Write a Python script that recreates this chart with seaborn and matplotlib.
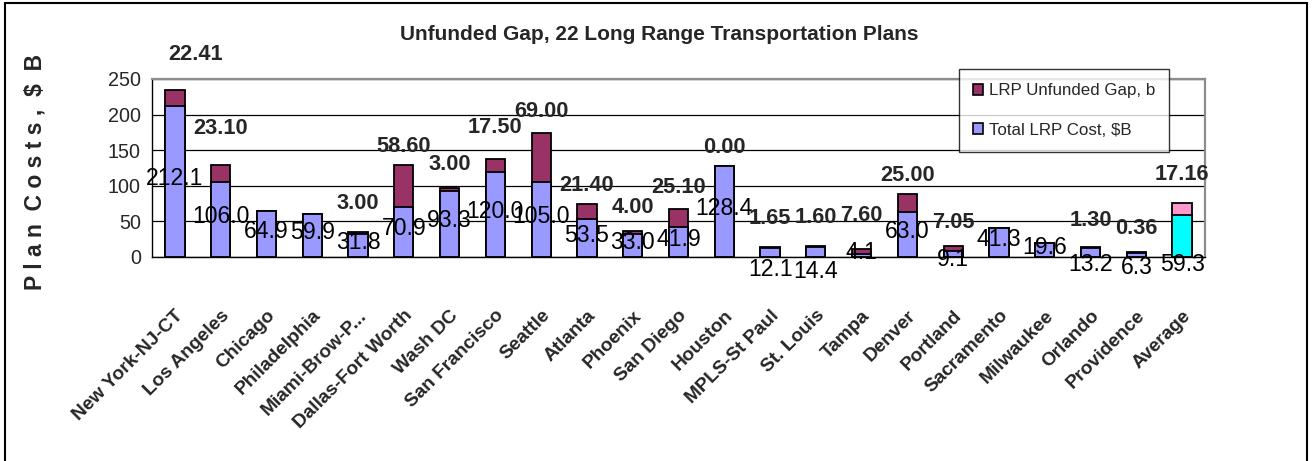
import matplotlib
matplotlib.use("Agg")
import numpy as np
import pandas as pd
import matplotlib.pyplot as plt
from matplotlib import font_manager
from matplotlib.patches import Patch, Rectangle
import seaborn as sns

# ---- data -------------------------------------------------------------
cities = ["New York-NJ-CT", "Los Angeles", "Chicago", "Philadelphia",
          "Miami-Brow-P...", "Dallas-Fort Worth", "Wash DC", "San Francisco",
          "Seattle", "Atlanta", "Phoenix", "San Diego", "Houston",
          "MPLS-St Paul", "St. Louis", "Tampa", "Denver", "Portland",
          "Sacramento", "Milwaukee", "Orlando", "Providence", "Average"]
total_cost = [212.1, 106.0, 64.9, 59.9, 31.8, 70.9, 93.3, 120.0, 105.0,
              53.5, 33.0, 41.9, 128.4, 12.1, 14.4, 4.1, 63.0, 9.1, 41.3,
              19.6, 13.2, 6.3, 59.3]
unfunded_gap = [22.41, 23.10, np.nan, np.nan, 3.00, 58.60, 3.00, 17.50,
                69.00, 21.40, 4.00, 25.10, 0.00, 1.65, 1.60, 7.60, 25.00,
                7.05, np.nan, np.nan, 1.30, 0.36, 17.16]
y_ticks = [0, 50, 100, 150, 200, 250]

# ---- label layout (text placement only) -------------------------------
gap_label_lift = [50, 52, 0, 0, 41, 25, 33, 45, 30, 26, 33, 31, 25, 41, 39,
                  47, 27, 33, 0, 0, 37, 34, 39]
cost_label_below = {"MPLS-St Paul": -18, "St. Louis": -21, "Portland": -4,
                    "Orlando": -11, "Providence": -15, "Average": -11}


def has_font(name):
    try:
        font_manager.findfont(name, fallback_to_default=False)
        return True
    except Exception:
        return False


if has_font("Liberation Sans Narrow"):
    family, k = ["Liberation Sans Narrow", "DejaVu Sans"], 1.08
else:
    family, k = ["Liberation Sans", "DejaVu Sans"], 0.92

sns.set_style("white")
plt.rcParams["font.family"] = family

df = pd.DataFrame({"city": cities, "cost": total_cost, "gap": unfunded_gap})
df["top"] = df["cost"] + df["gap"].fillna(0)

W, H = 1313, 461
fig = plt.figure(figsize=(W / 100, H / 100), dpi=100)
ax = fig.add_axes([152 / W, 1 - 257 / H, (1205 - 152) / W, (257 - 79) / H])

gap_colors = ["#FF99CC" if c == "Average" else "#993366" for c in cities]
cost_colors = ["#00FFFF" if c == "Average" else "#9999FF" for c in cities]

bar_kw = dict(x="city", hue="city", order=cities, hue_order=cities,
              width=0.42, edgecolor="black", linewidth=1.3, saturation=1,
              errorbar=None, legend=False, ax=ax)
# stacked: full height (cost + gap) first, then the cost part on top of it
sns.barplot(data=df, y="top", palette=gap_colors, **bar_kw)
sns.barplot(data=df, y="cost", palette=cost_colors, **bar_kw)

ax.set_xlim(-0.5, len(cities) - 0.5)
ax.set_ylim(0, 250)
ax.set_yticks(y_ticks)
ax.yaxis.grid(True, color="black", linewidth=0.9)
ax.set_axisbelow(True)
for side in ("top", "right"):
    ax.spines[side].set_color("#8c8c8c")
    ax.spines[side].set_linewidth(1.6)
for side in ("left", "bottom"):
    ax.spines[side].set_color("black")
    ax.spines[side].set_linewidth(1.0)

ax.set_xlabel("")
ax.set_ylabel("")
ax.tick_params(axis="y", which="major", direction="out", length=5,
               width=1, color="black", labelsize=15.5 * k, pad=3)
ax.set_xticks(range(len(cities)))
ax.set_xticks(np.arange(-0.5, len(cities), 1.0), minor=True)
ax.tick_params(axis="x", which="major", length=0, pad=36)
ax.tick_params(axis="x", which="minor", direction="out", length=6,
               width=1, color="black")
ax.set_xticklabels(cities, rotation=45, ha="right", va="top",
                   rotation_mode="anchor", fontsize=15 * k,
                   fontweight="bold")

# value labels
for i, row in df.iterrows():
    c = row["city"]
    if c in cost_label_below:
        yc = cost_label_below[c]
    else:
        yc = row["cost"] / 2 + 4
    ax.text(i, yc, f"{row['cost']:.1f}", ha="center", va="center",
            fontsize=18 * k, color="black", clip_on=False, zorder=5)
    if not np.isnan(row["gap"]):
        dx = 0.45 if i == 0 else 0.0
        ax.text(i + dx, row["top"] + gap_label_lift[i], f"{row['gap']:.2f}",
                ha="center", va="center", fontsize=17 * k,
                fontweight="bold", clip_on=False, zorder=5)

handles = [Patch(facecolor="#993366", edgecolor="black", linewidth=1.2,
                 label="LRP Unfunded Gap, b"),
           Patch(facecolor="#9999FF", edgecolor="black", linewidth=1.2,
                 label="Total LRP Cost, $B")]
leg = fig.legend(handles=handles, loc="upper left",
                 bbox_to_anchor=(959 / W, 1 - 69 / H), fontsize=13.2 * k,
                 frameon=True, fancybox=False, shadow=False,
                 handlelength=0.6, handleheight=0.6, handletextpad=0.3,
                 labelspacing=1.45, borderpad=0.85, borderaxespad=0)
leg.get_frame().set_edgecolor("black")
leg.get_frame().set_linewidth(1.0)

fig.text(659 / W, 1 - 35 / H, "Unfunded Gap, 22 Long Range Transportation Plans",
         ha="center", va="center", fontsize=16.3 * k, fontweight="bold")
fig.text(35 / W, 1 - 172 / H, "P l a n  C o s t s ,  $  B",
         rotation=90, ha="center", va="center", fontsize=16.5,
         fontweight="bold", family=["Liberation Sans", "DejaVu Sans"])

fig.add_artist(Rectangle((5 / W, -0.01), (1307 - 5) / W, 1.01 - 3 / H,
                         transform=fig.transFigure, fill=False,
                         edgecolor="black", linewidth=1.5))

fig.savefig("out.png", dpi=100)
